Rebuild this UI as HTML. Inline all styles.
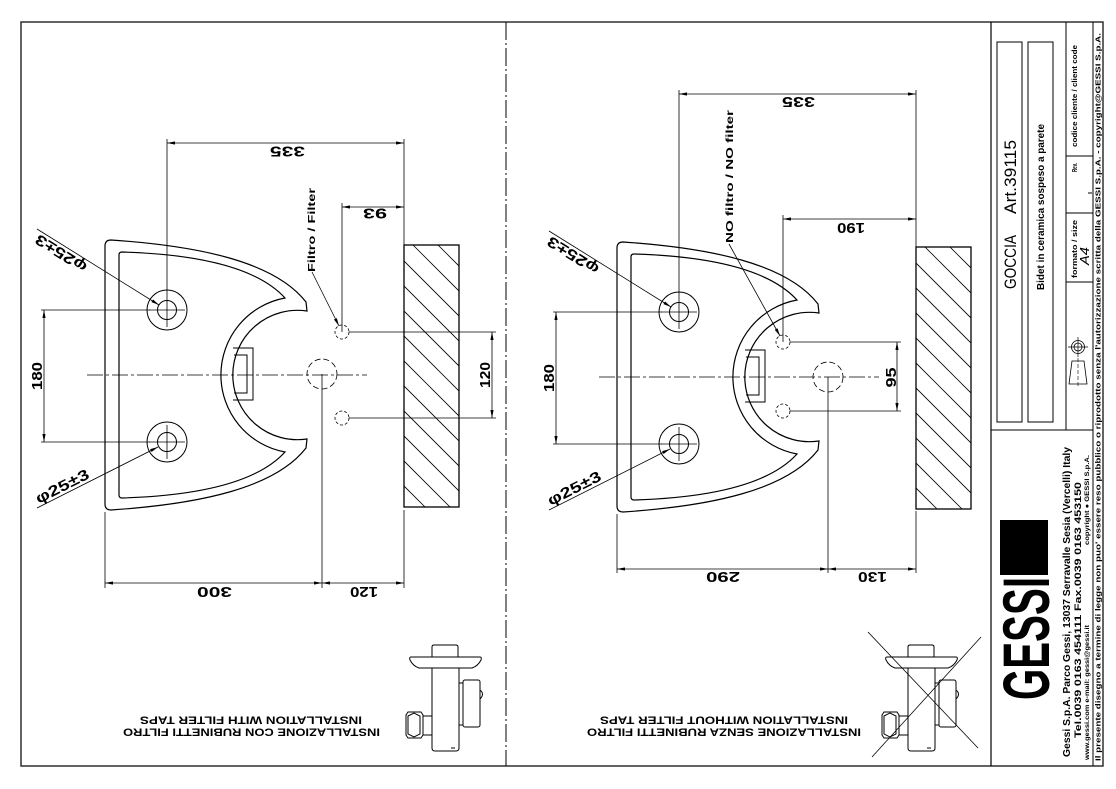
<!DOCTYPE html>
<html><head><meta charset="utf-8">
<style>
html,body{margin:0;padding:0;background:#fff;}
svg{display:block;}
text{font-family:"Liberation Sans",Arial,"DejaVu Sans",sans-serif;fill:#000;stroke:none;}
.b{font-weight:bold;}
</style></head><body>
<svg width="1116" height="789" viewBox="0 0 1116 789" xmlns="http://www.w3.org/2000/svg" xmlns:xlink="http://www.w3.org/1999/xlink">
<defs>
<marker id="a" viewBox="0 0 8 3.2" refX="8" refY="1.6" markerWidth="8" markerHeight="3.2" markerUnits="userSpaceOnUse" orient="auto-start-reverse"><path d="M0 0 L8 1.6 L0 3.2 Z" fill="#000"/></marker>
<clipPath id="wc" clipPathUnits="userSpaceOnUse"><rect x="404" y="245" width="55" height="262"/></clipPath>
<g id="fau" fill="none" stroke="#000" stroke-width="1">
 <path d="M432 657 L432 647 Q432 645 434 645 L456 645 Q458 645 458 647 L458 657"/>
 <path d="M411 657 L480 657 Q482 657 481 660 Q478 666 472 668 L419 668 Q413 666 410 660 Q409 657 411 657 Z"/>
 <path d="M432 668 L432 748 Q432 751 435 751 L456 751 Q459 751 459 748 L459 668"/>
 <path d="M459 683 L463 683 M459 725 L463 725"/>
 <rect x="463" y="680" width="17" height="47" rx="2"/>
 <path d="M480 690 Q485 694 480 699"/>
 <path d="M423 716 L432 716 M423 735 L432 735"/>
 <path d="M408 712 L421 712 L423 715 L423 735 L421 738 L408 738 L406 735 L406 715 Z"/>
 <path d="M408 716 L414 713 L420 716 L420 734 L414 737 L408 734 Z"/>
 <path d="M451 748 L455 748"/>
</g>
</defs>

<!-- frame -->
<rect x="21" y="22" width="1082" height="744" fill="none" stroke="#222" stroke-width="1.4"/>
<line x1="506" y1="22" x2="506" y2="766" stroke="#000" stroke-width="1" stroke-dasharray="18 3 2 3"/>

<!-- common left drawing -->
<g id="common" fill="none" stroke="#000" stroke-width="1">
 <path stroke-width="1.2" d="M105 246 Q105 240 111 240 C200 246 275 262 306 302 L307 311 A64.7 64.7 0 1 0 307 439 L306 448 C275 488 200 504 111 510 Q105 510 105 504 Z"/>
 <path stroke-width="1.2" d="M122 252 C190 254 255 265 285 298 A78.3 78.3 0 0 0 285 452 C255 485 190 496 122 498 Q119 498 119 495 L119 255 Q119 252 122 252 Z"/>
 <path d="M233 348 L253 348 L253 400 L233 400"/>
 <path d="M234 355 L247 355 L247 393 L234 393"/>
 <circle cx="167" cy="310" r="20"/><circle cx="167" cy="310" r="9.5"/>
 <line x1="149" y1="310" x2="185" y2="310" stroke-width=".8"/><line x1="167" y1="293" x2="167" y2="327" stroke-width=".8"/>
 <circle cx="167" cy="442" r="20"/><circle cx="167" cy="442" r="9.5"/>
 <line x1="149" y1="442" x2="185" y2="442" stroke-width=".8"/><line x1="167" y1="425" x2="167" y2="459" stroke-width=".8"/>
 <line x1="41" y1="310" x2="150" y2="310" stroke-width=".8"/>
 <line x1="41" y1="442" x2="150" y2="442" stroke-width=".8"/>
 <line x1="44" y1="310" x2="44" y2="442" stroke-width=".8" marker-start="url(#a)" marker-end="url(#a)"/>
 <text transform="translate(42,376) rotate(-90)" text-anchor="middle" class="b" font-size="15" textLength="28" lengthAdjust="spacingAndGlyphs">180</text>
 <line x1="37" y1="229" x2="159" y2="305" stroke-width=".8" marker-end="url(#a)"/>
 <text transform="translate(90,262) rotate(212)" x="0" y="-3" class="b" font-size="15" textLength="58" lengthAdjust="spacingAndGlyphs">φ25±3</text>
 <line x1="37" y1="508" x2="158" y2="447" stroke-width=".8" marker-end="url(#a)"/>
 <text transform="translate(40,506.5) rotate(-26.8)" x="0" y="-3" class="b" font-size="15" textLength="58" lengthAdjust="spacingAndGlyphs">φ25±3</text>
 <rect x="404" y="245" width="55" height="262" stroke-width="1.3"/>
 <g clip-path="url(#wc)" stroke-width=".8">
  <line x1="380" y1="187" x2="480" y2="287"/>
  <line x1="380" y1="212" x2="480" y2="312"/>
  <line x1="380" y1="237" x2="480" y2="337"/>
  <line x1="380" y1="262" x2="480" y2="362"/>
  <line x1="380" y1="287" x2="480" y2="387"/>
  <line x1="380" y1="312" x2="480" y2="412"/>
  <line x1="380" y1="337" x2="480" y2="437"/>
  <line x1="380" y1="362" x2="480" y2="462"/>
  <line x1="380" y1="387" x2="480" y2="487"/>
  <line x1="380" y1="412" x2="480" y2="512"/>
  <line x1="380" y1="437" x2="480" y2="537"/>
  <line x1="380" y1="462" x2="480" y2="562"/>
 </g>
 <line x1="87" y1="375" x2="367" y2="375" stroke-width=".8" stroke-dasharray="16 3 3 3"/>
</g>
<use xlink:href="#common" href="#common" transform="translate(512,2)"/>

<!-- left specifics -->
<g fill="none" stroke="#000" stroke-width=".8">
 <line x1="167" y1="139" x2="167" y2="293"/>
 <line x1="404" y1="139" x2="404" y2="245"/>
 <line x1="167" y1="143" x2="404" y2="143" marker-start="url(#a)" marker-end="url(#a)"/>
 <line x1="342" y1="203" x2="342" y2="332"/>
 <line x1="342" y1="207" x2="404" y2="207" marker-start="url(#a)" marker-end="url(#a)"/>
 <line x1="312" y1="272" x2="339" y2="326" marker-end="url(#a)"/>
 <circle cx="342" cy="332" r="7" stroke-dasharray="3 2"/>
 <circle cx="342" cy="418" r="7" stroke-dasharray="3 2"/>
 <line x1="349" y1="332" x2="496" y2="332"/>
 <line x1="349" y1="418" x2="496" y2="418"/>
 <line x1="492" y1="332" x2="492" y2="418" marker-start="url(#a)" marker-end="url(#a)"/>
 <circle cx="322" cy="374" r="15" stroke-dasharray="6 3"/>
 <line x1="322" y1="374" x2="322" y2="588"/>
 <line x1="105" y1="512" x2="105" y2="588"/>
 <line x1="404" y1="510" x2="404" y2="588"/>
 <line x1="105" y1="583" x2="322" y2="583" marker-start="url(#a)" marker-end="url(#a)"/>
 <line x1="322" y1="583" x2="404" y2="583" marker-start="url(#a)" marker-end="url(#a)"/>
</g>
<text transform="translate(287.5,146.5) rotate(180)" text-anchor="middle" class="b" font-size="14.5" textLength="35" lengthAdjust="spacingAndGlyphs">335</text>
<text transform="translate(375,208.5) rotate(180)" text-anchor="middle" class="b" font-size="14.5" textLength="24" lengthAdjust="spacingAndGlyphs">93</text>
<text transform="translate(214.5,587) rotate(180)" text-anchor="middle" class="b" font-size="14.5" textLength="35" lengthAdjust="spacingAndGlyphs">300</text>
<text transform="translate(364,587) rotate(180)" text-anchor="middle" class="b" font-size="14.5" textLength="28" lengthAdjust="spacingAndGlyphs">120</text>
<text transform="translate(490,375) rotate(-90)" text-anchor="middle" class="b" font-size="15" textLength="26" lengthAdjust="spacingAndGlyphs">120</text>
<text transform="translate(315,230) rotate(-90)" text-anchor="middle" class="b" font-size="10.5" textLength="84" lengthAdjust="spacingAndGlyphs">Filtro  /  Filter</text>
<use xlink:href="#fau" href="#fau"/>
<text transform="translate(251.5,728.5) rotate(180)" text-anchor="middle" class="b" font-size="11" textLength="257" lengthAdjust="spacingAndGlyphs">INSTALLAZIONE  CON  RUBINETTI  FILTRO</text>
<text transform="translate(251,716.5) rotate(180)" text-anchor="middle" class="b" font-size="11" textLength="222" lengthAdjust="spacingAndGlyphs">INSTALLATION  WITH  FILTER  TAPS</text>

<!-- right specifics -->
<g fill="none" stroke="#000" stroke-width=".8">
 <line x1="679" y1="90" x2="679" y2="295"/>
 <line x1="916" y1="90" x2="916" y2="247"/>
 <line x1="679" y1="94" x2="916" y2="94" marker-start="url(#a)" marker-end="url(#a)"/>
 <line x1="783" y1="215" x2="783" y2="342"/>
 <line x1="783" y1="219" x2="916" y2="219" marker-start="url(#a)" marker-end="url(#a)"/>
 <line x1="729" y1="244" x2="780" y2="336" marker-end="url(#a)"/>
 <circle cx="783" cy="342" r="7" stroke-dasharray="3 2"/>
 <circle cx="783" cy="411" r="7" stroke-dasharray="3 2"/>
 <line x1="790" y1="342" x2="901" y2="342"/>
 <line x1="790" y1="411" x2="901" y2="411"/>
 <line x1="897" y1="342" x2="897" y2="411" marker-start="url(#a)" marker-end="url(#a)"/>
 <circle cx="828" cy="377" r="15" stroke-dasharray="6 3"/>
 <line x1="828" y1="377" x2="828" y2="573"/>
 <line x1="617" y1="514" x2="617" y2="573"/>
 <line x1="916" y1="511" x2="916" y2="573"/>
 <line x1="617" y1="569" x2="828" y2="569" marker-start="url(#a)" marker-end="url(#a)"/>
 <line x1="828" y1="569" x2="916" y2="569" marker-start="url(#a)" marker-end="url(#a)"/>
 <line x1="868" y1="632" x2="978" y2="748"/>
 <line x1="981" y1="637" x2="872" y2="757"/>
</g>
<text transform="translate(798.5,97) rotate(180)" text-anchor="middle" class="b" font-size="14.5" textLength="33" lengthAdjust="spacingAndGlyphs">335</text>
<text transform="translate(851,223) rotate(180)" text-anchor="middle" class="b" font-size="14.5" textLength="28" lengthAdjust="spacingAndGlyphs">190</text>
<text transform="translate(723,572) rotate(180)" text-anchor="middle" class="b" font-size="14.5" textLength="34" lengthAdjust="spacingAndGlyphs">290</text>
<text transform="translate(872.5,572) rotate(180)" text-anchor="middle" class="b" font-size="14.5" textLength="29" lengthAdjust="spacingAndGlyphs">130</text>
<text transform="translate(896,377.5) rotate(-90)" text-anchor="middle" class="b" font-size="15" textLength="20" lengthAdjust="spacingAndGlyphs">95</text>
<text transform="translate(733,176.5) rotate(-90)" text-anchor="middle" class="b" font-size="10.5" textLength="133" lengthAdjust="spacingAndGlyphs">NO  filtro  /  NO  filter</text>
<use xlink:href="#fau" href="#fau" transform="translate(476,0)"/>
<text transform="translate(724,728.5) rotate(180)" text-anchor="middle" class="b" font-size="11" textLength="274" lengthAdjust="spacingAndGlyphs">INSTALLAZIONE  SENZA  RUBINETTI  FILTRO</text>
<text transform="translate(724,716.5) rotate(180)" text-anchor="middle" class="b" font-size="11" textLength="248" lengthAdjust="spacingAndGlyphs">INSTALLATION  WITHOUT  FILTER  TAPS</text>

<!-- title block -->
<g fill="none" stroke="#000" stroke-width="1">
 <line x1="991" y1="22" x2="991" y2="766" stroke-width="1.2"/>
 <rect x="997" y="42" width="25" height="380"/>
 <rect x="1028" y="42" width="25" height="380"/>
 <line x1="1066" y1="22" x2="1066" y2="430"/>
 <line x1="991" y1="430" x2="1093" y2="430"/>
 <line x1="1093" y1="22" x2="1093" y2="766"/>
 <line x1="1066" y1="156" x2="1093" y2="156"/>
 <line x1="1066" y1="213" x2="1093" y2="213"/>
 <line x1="1066" y1="282" x2="1093" y2="282"/>
 <line x1="1088" y1="193" x2="1092" y2="193"/>
 <circle cx="1078" cy="347" r="6.5" stroke-width=".8"/><circle cx="1078" cy="347" r="4" stroke-width=".8"/>
 <line x1="1068" y1="347" x2="1088" y2="347" stroke-width=".7"/><line x1="1078" y1="337" x2="1078" y2="357" stroke-width=".7"/>
 <path d="M1072 361 L1084 361 L1087 384 L1069 384 Z" stroke-width=".8"/>
 <line x1="1078" y1="358" x2="1078" y2="388" stroke-width=".6" stroke-dasharray="4 2"/>
</g>
<text transform="translate(1016,289) rotate(-90)" font-size="17" textLength="54" lengthAdjust="spacingAndGlyphs">GOCCIA</text>
<text transform="translate(1016,214) rotate(-90)" font-size="17" textLength="74" lengthAdjust="spacingAndGlyphs">Art.39115</text>
<text transform="translate(1044,290) rotate(-90)" class="b" font-size="10" textLength="166" lengthAdjust="spacingAndGlyphs">Bidet in ceramica sospeso a parete</text>
<text transform="translate(1077,147) rotate(-90)" class="b" font-size="7.5" textLength="102" lengthAdjust="spacingAndGlyphs">codice  cliente  /  client  code</text>
<text transform="translate(1077,172) rotate(-90)" class="b" font-size="7.5" textLength="9" lengthAdjust="spacingAndGlyphs">Rev.</text>
<text transform="translate(1077,278) rotate(-90)" class="b" font-size="7.5" textLength="58" lengthAdjust="spacingAndGlyphs">formato  /  size</text>
<text transform="translate(1089,265) rotate(-90)" font-style="italic" font-size="13" textLength="18" lengthAdjust="spacingAndGlyphs">A4</text>
<text transform="translate(1100.5,761) rotate(-90)" class="b" font-size="7" textLength="728" lengthAdjust="spacingAndGlyphs">Il  presente  disegno  a  termine  di  legge  non  puo'  essere  reso  pubblico  o  riprodotto  senza  l'autorizzazione  scritta  della  GESSI  S.p.A.  -   copyright@GESSI  S.p.A.</text>
<rect x="1000" y="520" width="48" height="55" fill="#000"/>
<text transform="translate(1049,700) rotate(-90)" class="b" font-size="66" textLength="123" lengthAdjust="spacingAndGlyphs">GESSI</text>
<text transform="translate(1070,757) rotate(-90)" class="b" font-size="10" textLength="310" lengthAdjust="spacingAndGlyphs">Gessi  S.p.A.  Parco  Gessi,  13037  Serravalle  Sesia  (Vercelli)  Italy</text>
<text transform="translate(1081,738) rotate(-90)" class="b" font-size="9.5" textLength="256" lengthAdjust="spacingAndGlyphs">Tel.0039  0163  454111  Fax.0039  0163  453150</text>
<text transform="translate(1089,760) rotate(-90)" class="b" font-size="6.5" textLength="135" lengthAdjust="spacingAndGlyphs">www.gessi.com  e-mail: gessi@gessi.it</text>
<text transform="translate(1089,545) rotate(-90)" class="b" font-size="6.5" textLength="90" lengthAdjust="spacingAndGlyphs">copyright ● GESSI  S.p.A.</text>
</svg>
</body></html>
